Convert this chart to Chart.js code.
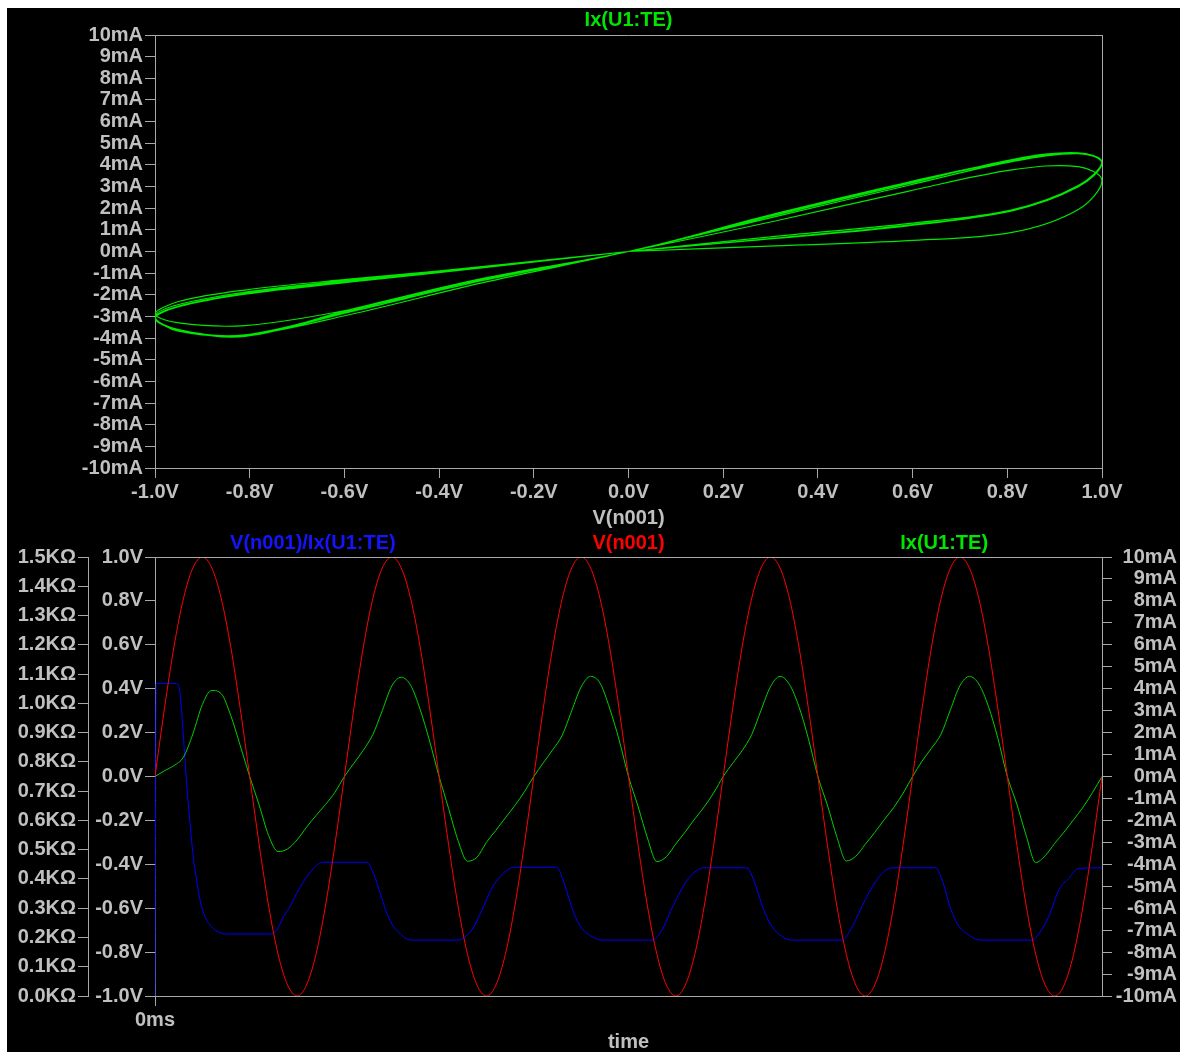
<!DOCTYPE html>
<html>
<head>
<meta charset="utf-8">
<title>Memristor transient</title>
<script src="https://cdn.jsdelivr.net/npm/chart.js@4.4.1/dist/chart.umd.min.js"></script>
<style>
  html, body { margin: 0; padding: 0; background: #fff; width: 1184px; height: 1052px; overflow: hidden; }
  #panel { position: absolute; left: 7px; top: 8px; width: 1173px; height: 1044px; background: #000; }
  canvas { position: absolute; left: 0; }
  #topChart { top: 0; width: 1184px; height: 530px; }
  #bottomChart { top: 530px; width: 1184px; height: 522px; }
</style>
</head>
<body>
<div id="panel"></div>
<canvas id="topChart" width="1184" height="530"></canvas>
<canvas id="bottomChart" width="1184" height="522"></canvas>
<script>
// ---- simulation samples (time in source periods) ----
const time = [
  0, 0.05, 0.1, 0.15, 0.2, 0.25, 0.3, 0.35, 0.4, 0.45, 0.5, 0.55, 0.6, 0.65, 0.7, 0.75, 0.8, 0.85, 0.9, 0.95,
  1, 1.05, 1.1, 1.15, 1.2, 1.25, 1.3, 1.35, 1.4, 1.45, 1.5, 1.55, 1.6, 1.65, 1.7, 1.75, 1.8, 1.85, 1.9, 1.95,
  2, 2.05, 2.1, 2.15, 2.2, 2.25, 2.3, 2.35, 2.4, 2.45, 2.5, 2.55, 2.6, 2.65, 2.7, 2.75, 2.8, 2.85, 2.9, 2.95,
  3, 3.05, 3.1, 3.15, 3.2, 3.25, 3.3, 3.35, 3.4, 3.45, 3.5, 3.55, 3.6, 3.65, 3.7, 3.75, 3.8, 3.85, 3.9, 3.95,
  4, 4.05, 4.1, 4.15, 4.2, 4.25, 4.3, 4.35, 4.4, 4.45, 4.5, 4.55, 4.6, 4.65, 4.7, 4.75, 4.8, 4.85, 4.9, 4.95,
  5
];

// V(n001), volts
const voltage = [
  0, 0.31, 0.59, 0.81, 0.95, 1.00, 0.95, 0.81, 0.59, 0.31, 0, -0.31, -0.59, -0.81, -0.95, -1.00, -0.95, -0.81, -0.59, -0.31,
  0, 0.31, 0.59, 0.81, 0.95, 1.00, 0.95, 0.81, 0.59, 0.31, 0, -0.31, -0.59, -0.81, -0.95, -1.00, -0.95, -0.81, -0.59, -0.31,
  0, 0.31, 0.59, 0.81, 0.95, 1.00, 0.95, 0.81, 0.59, 0.31, 0, -0.31, -0.59, -0.81, -0.95, -1.00, -0.95, -0.81, -0.59, -0.31,
  0, 0.31, 0.59, 0.81, 0.95, 1.00, 0.95, 0.81, 0.59, 0.31, 0, -0.31, -0.59, -0.81, -0.95, -1.00, -0.95, -0.81, -0.59, -0.31,
  0, 0.31, 0.59, 0.81, 0.95, 1.00, 0.95, 0.81, 0.59, 0.31, 0, -0.31, -0.59, -0.81, -0.95, -1.00, -0.95, -0.81, -0.59, -0.31,
  0
];

// Ix(U1:TE), milliamps
const current = [
  0, 0.26, 0.50, 0.88, 1.94, 3.28, 3.92, 3.77, 2.78, 1.41, 0, -1.30, -2.69, -3.42, -3.30, -2.89, -2.31, -1.78, -1.28, -0.72,
  0, 0.60, 1.20, 1.91, 3.00, 4.12, 4.52, 4.15, 3.05, 1.61, 0, -1.45, -2.92, -3.86, -3.68, -3.00, -2.45, -1.88, -1.32, -0.70,
  0, 0.62, 1.22, 1.88, 2.99, 4.08, 4.56, 4.25, 3.12, 1.68, 0, -1.35, -2.80, -3.88, -3.65, -3.07, -2.52, -1.93, -1.38, -0.74,
  0, 0.60, 1.18, 1.90, 3.02, 4.10, 4.56, 4.19, 3.18, 1.72, 0, -1.30, -2.75, -3.85, -3.63, -3.09, -2.55, -1.97, -1.42, -0.76,
  0, 0.70, 1.29, 1.93, 3.05, 4.14, 4.56, 4.21, 3.20, 1.75, 0, -1.25, -2.70, -3.92, -3.61, -3.05, -2.53, -1.97, -1.40, -0.73,
  0
];

// V(n001)/Ix(U1:TE), kilo-ohms, at its own breakpoints
const resTime = [
  0, 0.006, 0.115, 0.132, 0.150, 0.167, 0.185, 0.202, 0.220, 0.238,
  0.264, 0.299, 0.343, 0.379, 0.607, 0.643, 0.678, 0.713, 0.748, 0.784,
  0.836, 0.889, 1.118, 1.153, 1.189, 1.224, 1.259, 1.294, 1.320, 1.356,
  1.602, 1.638, 1.673, 1.726, 1.779, 1.823, 1.866, 1.902, 2.122, 2.148,
  2.183, 2.219, 2.254, 2.307, 2.360, 2.624, 2.677, 2.721, 2.773, 2.817,
  2.862, 2.897, 3.126, 3.161, 3.214, 3.258, 3.311, 3.364, 3.628, 3.671,
  3.724, 3.777, 3.830, 3.865, 3.892, 4.120, 4.156, 4.200, 4.235, 4.279,
  4.367, 4.631, 4.675, 4.719, 4.772, 4.825, 4.877, 5.000
];
const resistance = [
  0, 1.068, 1.068, 1.034, 0.886, 0.727, 0.590, 0.476, 0.396, 0.328,
  0.271, 0.237, 0.216, 0.212, 0.212, 0.225, 0.271, 0.305, 0.351, 0.391,
  0.436, 0.457, 0.457, 0.419, 0.351, 0.283, 0.237, 0.214, 0.198, 0.191,
  0.191, 0.203, 0.225, 0.294, 0.368, 0.408, 0.433, 0.440, 0.440, 0.408,
  0.339, 0.271, 0.231, 0.203, 0.191, 0.191, 0.225, 0.288, 0.356, 0.402,
  0.430, 0.438, 0.438, 0.396, 0.294, 0.237, 0.203, 0.191, 0.191, 0.225,
  0.294, 0.362, 0.413, 0.433, 0.438, 0.438, 0.396, 0.300, 0.248, 0.216,
  0.191, 0.191, 0.220, 0.271, 0.362, 0.402, 0.436, 0.438
];

// ---- tick values and their labels ----
const currentTicks = [-10, -9, -8, -7, -6, -5, -4, -3, -2, -1, 0, 1, 2, 3, 4, 5, 6, 7, 8, 9, 10];
const currentTickLabels = ['-10mA', '-9mA', '-8mA', '-7mA', '-6mA', '-5mA', '-4mA', '-3mA', '-2mA', '-1mA', '0mA',
  '1mA', '2mA', '3mA', '4mA', '5mA', '6mA', '7mA', '8mA', '9mA', '10mA'];
const voltTicks = [-1, -0.8, -0.6, -0.4, -0.2, 0, 0.2, 0.4, 0.6, 0.8, 1];
const voltTickLabels = ['-1.0V', '-0.8V', '-0.6V', '-0.4V', '-0.2V', '0.0V', '0.2V', '0.4V', '0.6V', '0.8V', '1.0V'];
const resTicks = [0, 0.1, 0.2, 0.3, 0.4, 0.5, 0.6, 0.7, 0.8, 0.9, 1.0, 1.1, 1.2, 1.3, 1.4, 1.5];
const resTickLabels = ['0.0KΩ', '0.1KΩ', '0.2KΩ', '0.3KΩ', '0.4KΩ', '0.5KΩ', '0.6KΩ', '0.7KΩ', '0.8KΩ', '0.9KΩ',
  '1.0KΩ', '1.1KΩ', '1.2KΩ', '1.3KΩ', '1.4KΩ', '1.5KΩ'];
const timeTicks = [0];
const timeTickLabels = ['0ms'];

// ---- styling ----
const FAMILY = "'Liberation Sans', Arial, sans-serif";
const FONT = { family: FAMILY, size: 20, weight: 'bold', lineHeight: 1.2 };
const TEXT = '#c0c0c0';
const AXIS = '#a8a8a8';
const GREEN = '#00e600';
const RED = '#ff0000';
const BLUE = '#0000ff';

Chart.defaults.font.family = FAMILY;

function axisStyle(values, labels, extra) {
  return Object.assign({
    type: 'linear',
    min: values[0],
    max: values[values.length - 1],
    afterBuildTicks: s => { s.ticks = values.map(v => ({ value: v })); },
    grid: { drawOnChartArea: false, drawTicks: true, tickLength: 10, color: AXIS, lineWidth: 1 },
    border: { display: true, color: AXIS, width: 1 },
    ticks: { color: TEXT, font: FONT, padding: 2, autoSkip: false, maxRotation: 0, minRotation: 0,
             callback: (v, i) => labels[i] }
  }, extra || {});
}

// trace names above the plot, plus the closing frame lines
const headings = {
  id: 'headings',
  afterDraw(chart, args, opts) {
    const { ctx, chartArea: a } = chart;
    ctx.save();
    ctx.font = 'bold 20px ' + FAMILY;
    ctx.textAlign = 'center';
    ctx.textBaseline = 'middle';
    for (const it of opts.items) {
      ctx.fillStyle = it.color;
      ctx.fillText(it.text, a.left + (a.right - a.left) * it.at, a.top - opts.gap);
    }
    ctx.strokeStyle = AXIS;
    ctx.lineWidth = 1;
    ctx.beginPath();
    ctx.moveTo(Math.round(a.left), Math.round(a.top) + 0.5);
    ctx.lineTo(Math.round(a.right), Math.round(a.top) + 0.5);
    if (opts.rightEdge) {
      ctx.moveTo(Math.round(a.right) + 0.5, Math.round(a.top));
      ctx.lineTo(Math.round(a.right) + 0.5, Math.round(a.bottom));
    }
    ctx.stroke();
    ctx.restore();
  }
};

const common = {
  responsive: false,
  animation: false,
  devicePixelRatio: 1,
  events: [],
  plugins: { legend: { display: false }, tooltip: { enabled: false } },
  elements: { point: { radius: 0 } }
};

// ---- V(n001) vs Ix(U1:TE) ----
const loopPoints = voltage.map((v, i) => ({ x: v, y: current[i] }));

new Chart(document.getElementById('topChart'), {
  type: 'scatter',
  data: {
    datasets: [{
      data: loopPoints,
      showLine: true,
      borderColor: GREEN,
      borderWidth: 1.2,
      pointRadius: 0,
      tension: 0.35
    }]
  },
  options: Object.assign({}, common, {
    layout: { padding: { left: 0, top: 35, right: 82, bottom: 0 } },
    scales: {
      x: axisStyle(voltTicks, voltTickLabels, {
        position: 'bottom',
        afterFit: s => { s.height = 62; },
        title: { display: true, text: 'V(n001)', color: TEXT, font: Object.assign({}, FONT, { lineHeight: 1 }),
                 padding: { top: 0, bottom: 2 } }
      }),
      y: axisStyle(currentTicks, currentTickLabels, {
        position: 'left',
        afterFit: s => { s.width = 155; }
      })
    },
    plugins: Object.assign({}, common.plugins, {
      headings: { gap: 15, rightEdge: true, items: [{ text: 'Ix(U1:TE)', color: GREEN, at: 0.5 }] }
    })
  }),
  plugins: [headings]
});

// ---- transient traces ----
const vSeries = time.map((t, i) => ({ x: t, y: voltage[i] }));
const iSeries = time.map((t, i) => ({ x: t, y: current[i] }));
const rSeries = resTime.map((t, i) => ({ x: t, y: resistance[i] }));

new Chart(document.getElementById('bottomChart'), {
  type: 'line',
  data: {
    datasets: [
      { data: vSeries, yAxisID: 'yV', borderColor: RED, borderWidth: 1, cubicInterpolationMode: 'monotone' },
      { data: iSeries, yAxisID: 'yI', borderColor: '#00d000', borderWidth: 1, cubicInterpolationMode: 'monotone' },
      { data: rSeries, yAxisID: 'yR', borderColor: BLUE, borderWidth: 1, cubicInterpolationMode: 'monotone' }
    ]
  },
  options: Object.assign({}, common, {
    layout: { padding: { left: 0, top: 27, right: 7, bottom: 0 } },
    scales: {
      x: axisStyle(timeTicks.concat([5]), timeTickLabels, {
        min: 0, max: 5,
        position: 'bottom',
        afterBuildTicks: s => { s.ticks = timeTicks.map(v => ({ value: v })); },
        afterFit: s => { s.height = 56; },
        title: { display: true, text: 'time', color: TEXT, font: Object.assign({}, FONT, { lineHeight: 1 }),
                 padding: { top: 0, bottom: 0 } }
      }),
      yR: axisStyle(resTicks, resTickLabels, {
        position: 'left', weight: 1,
        afterFit: s => { s.width = 88; }
      }),
      yV: axisStyle(voltTicks, voltTickLabels, {
        position: 'left', weight: 0,
        afterFit: s => { s.width = 67; }
      }),
      yI: axisStyle(currentTicks, currentTickLabels, {
        position: 'right',
        afterFit: s => { s.width = 75; }
      })
    },
    plugins: Object.assign({}, common.plugins, {
      headings: {
        gap: 14, rightEdge: false,
        items: [
          { text: 'V(n001)/Ix(U1:TE)', color: '#1414ff', at: 1 / 6 },
          { text: 'V(n001)', color: RED, at: 0.5 },
          { text: 'Ix(U1:TE)', color: GREEN, at: 5 / 6 }
        ]
      }
    })
  }),
  plugins: [headings]
});
// right-hand current labels sit flush to the outer edge
Chart.getChart('bottomChart').options.scales.yI.ticks.crossAlign = 'far';
Chart.getChart('bottomChart').update();
</script>
</body>
</html>
